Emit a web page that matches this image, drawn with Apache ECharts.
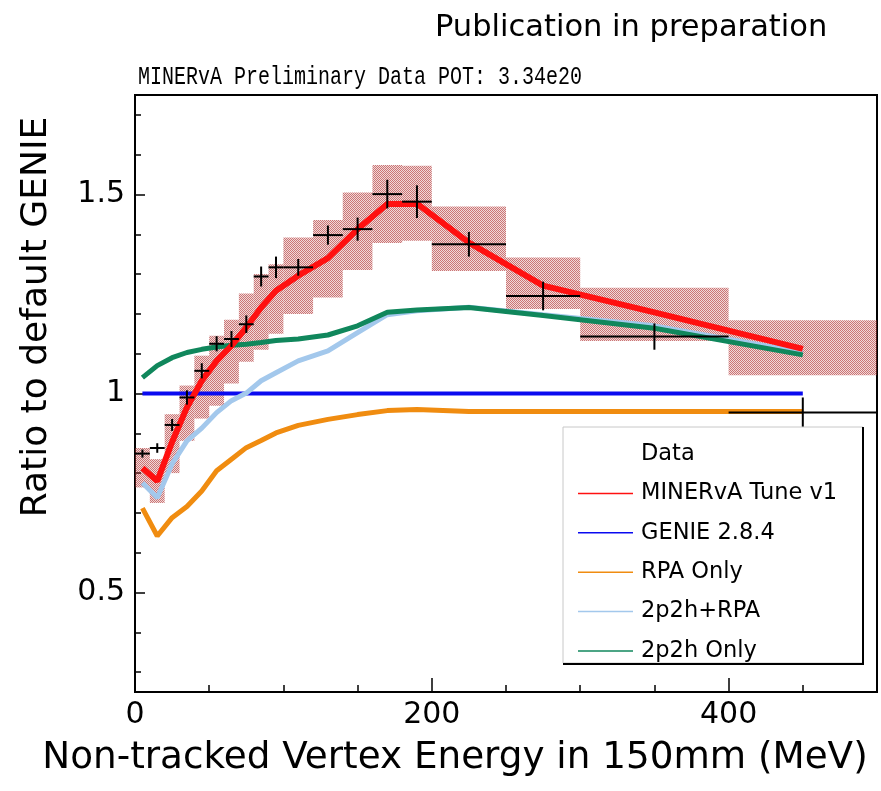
<!DOCTYPE html>
<html><head><meta charset="utf-8">
<script src="https://cdn.jsdelivr.net/npm/echarts@6/dist/echarts.min.js"></script>
<style>html,body{margin:0;padding:0;background:#fff}#chart{width:881px;height:791px}</style>
</head><body><div id="chart"></div>
<script>
// ---- data ----
const binLow    = [0,10,20,30,40,50,60,70,80,90,100,120,140,160,180,200,250,300,400];
const binHigh   = [10,20,30,40,50,60,70,80,90,100,120,140,160,180,200,250,300,400,500];
const binCenter = [5,15,25,35,45,55,65,75,85,95,110,130,150,170,190,225,275,350,450];
const dataRatio = [0.849,0.863,0.921,0.990,1.057,1.125,1.137,1.174,1.294,1.317,1.317,1.398,1.413,1.501,1.482,1.375,1.245,1.143,0.952];
const dataError = [0.010,0.012,0.015,0.018,0.019,0.019,0.020,0.022,0.025,0.027,0.021,0.024,0.029,0.036,0.041,0.031,0.036,0.033,0.038];
const bandHigh  = [0.863,0.835,0.948,1.020,1.095,1.145,1.185,1.251,1.300,1.325,1.392,1.436,1.505,1.574,1.572,1.470,1.342,1.266,1.184];
const bandLow   = [0.764,0.725,0.800,0.881,0.937,0.969,1.025,1.080,1.110,1.150,1.200,1.241,1.310,1.378,1.384,1.308,1.212,1.132,1.046];
const tuneV1    = [0.813,0.780,0.878,0.965,1.032,1.082,1.120,1.166,1.216,1.258,1.296,1.340,1.413,1.476,1.477,1.379,1.271,1.204,1.112];
const genie284  = [1,1,1,1,1,1,1,1,1,1,1,1,1,1,1,1,1,1,1];
const rpaOnly   = [0.712,0.642,0.688,0.716,0.755,0.806,0.835,0.864,0.882,0.901,0.920,0.935,0.947,0.957,0.960,0.955,0.955,0.955,0.955];
const mecRpa    = [0.776,0.738,0.823,0.881,0.913,0.952,0.982,1.001,1.032,1.052,1.082,1.107,1.153,1.198,1.208,1.217,1.198,1.170,1.103];
const mecOnly   = [1.040,1.070,1.090,1.103,1.111,1.117,1.121,1.124,1.128,1.133,1.137,1.147,1.170,1.204,1.210,1.216,1.196,1.164,1.097];
const seriesNames = ['Data','MINERvA Tune v1','GENIE 2.8.4','RPA Only','2p2h+RPA','2p2h Only'];
const xLabelValues = [0,200,400];
const xMinorTicks  = [50,100,150,250,300,350,450];
const yLabelValues = [0.5,1,1.5];
const yMinorTicks  = [0.3,0.4,0.6,0.7,0.8,0.9,1.1,1.2,1.3,1.4,1.6,1.7];

// ---- styles ----
const SANS = 'DejaVu Sans';
const colors = {tune:'#ff1010', genie:'#0a0af0', rpa:'#f08c10', mecRpa:'#a3c8ec', mec:'#10875c'};

const pat = document.createElement('canvas'); pat.width = 2; pat.height = 2;
const pctx = pat.getContext('2d');
pctx.fillStyle = 'rgba(170,25,25,0.6)';
pctx.fillRect(0,0,1,1); pctx.fillRect(1,1,1,1);
pctx.fillStyle = 'rgba(200,120,120,0.28)';
pctx.fillRect(1,0,1,1); pctx.fillRect(0,1,1,1);
const bandFill = {image: pat, repeat: 'repeat'};

const chart = echarts.init(document.getElementById('chart'), null, {renderer:'canvas'});

function lineSeries(name, values, color, width, z) {
  return {
    type:'line', name, data: binCenter.map((x,i)=>[x, values[i]]),
    symbol:'none', lineStyle:{color, width}, itemStyle:{color}, z, animation:false
  };
}

const option = {
  animation:false,
  grid:{left:135, top:95, right:4, bottom:99, show:true, borderColor:'#000', borderWidth:2, backgroundColor:'transparent'},
  xAxis:[
    {type:'value', min:0, max:500, position:'bottom',
     axisLine:{show:true, lineStyle:{color:'#000', width:2}},
     axisTick:{show:true, inside:true, length:7, customValues:xMinorTicks, lineStyle:{color:'#000', width:1.5}},
     axisLabel:{customValues:xLabelValues, formatter:v=>String(v), fontSize:30, fontFamily:SANS, color:'#000', margin:8},
     splitLine:{show:false}},
    {type:'value', min:0, max:500, position:'bottom', offset:0,
     axisLine:{show:false},
     axisTick:{show:true, inside:true, length:14, customValues:xLabelValues, lineStyle:{color:'#000', width:1.5}},
     axisLabel:{show:false}, splitLine:{show:false}}
  ],
  yAxis:[
    {type:'value', min:0.25, max:1.75, position:'left',
     axisLine:{show:true, lineStyle:{color:'#000', width:2}},
     axisTick:{show:true, inside:true, length:6, customValues:yMinorTicks, lineStyle:{color:'#000', width:1.5}},
     axisLabel:{customValues:yLabelValues, formatter:v=>String(v), fontSize:30, fontFamily:SANS, color:'#000', margin:10},
     splitLine:{show:false}},
    {type:'value', min:0.25, max:1.75, position:'left', offset:0,
     axisLine:{show:false},
     axisTick:{show:true, inside:true, length:10, customValues:yLabelValues, lineStyle:{color:'#000', width:1.5}},
     axisLabel:{show:false}, splitLine:{show:false}}
  ],
  legend:{
    orient:'vertical', left:573, top:436, itemWidth:55, itemHeight:1.5, itemGap:13.4,
    icon:'rect', selectedMode:false, z:30,
    textStyle:{fontFamily:SANS, fontSize:22.5, color:'#000', lineHeight:26, padding:[0,0,0,3]},
    data:[
      {name:seriesNames[0], itemStyle:{opacity:0}},
      seriesNames[1], seriesNames[2], seriesNames[3], seriesNames[4], seriesNames[5]
    ]
  },
  graphic:[
    {type:'rect', z:20, shape:{x:563, y:427, width:300, height:236}, style:{fill:'#fff', stroke:'#c8c8c8', lineWidth:1}},
    {type:'line', z:21, shape:{x1:863, y1:427, x2:863, y2:664}, style:{stroke:'#000', lineWidth:2}},
    {type:'line', z:21, shape:{x1:563, y1:664, x2:864, y2:664}, style:{stroke:'#000', lineWidth:2}},
    {type:'text', z:21, x:435, y:28, style:{text:'Publication in preparation', font:'30.5px "DejaVu Sans"', fill:'#000', verticalAlign:'middle', align:'left'}},
    {type:'text', z:21, x:138, y:77, scaleY:1.3, style:{text:'MINERvA Preliminary Data POT: 3.34e20', font:'20px "Liberation Mono"', fill:'#000', verticalAlign:'middle', align:'left'}},
    {type:'text', z:21, x:455, y:758, style:{text:'Non-tracked Vertex Energy in 150mm (MeV)', font:'37.3px "DejaVu Sans"', fill:'#000', verticalAlign:'middle', align:'center'}},
    {type:'text', z:21, x:37, y:317, rotation:Math.PI/2, style:{text:'Ratio to default GENIE', font:'36px "DejaVu Sans"', fill:'#000', verticalAlign:'middle', align:'center'}}
  ],
  series:[
    {type:'custom', name:'band', z:1, silent:true,
     data: binLow.map((x,i)=>[x, binHigh[i], bandLow[i], bandHigh[i]]),
     encode:{x:[0,1], y:[2,3]},
     renderItem:(params, api)=>{
       const p0 = api.coord([api.value(0), api.value(3)]);
       const p1 = api.coord([api.value(1), api.value(2)]);
       return {type:'rect', shape:{x:p0[0], y:p0[1], width:p1[0]-p0[0], height:p1[1]-p0[1]}, style:{fill:bandFill}};
     }},
    lineSeries(seriesNames[2], genie284, colors.genie, 4, 3),
    lineSeries(seriesNames[3], rpaOnly, colors.rpa, 5, 3),
    lineSeries(seriesNames[4], mecRpa, colors.mecRpa, 5, 4),
    lineSeries(seriesNames[5], mecOnly, colors.mec, 5, 5),
    lineSeries(seriesNames[1], tuneV1, colors.tune, 6, 6),
    {type:'custom', name:seriesNames[0], z:8, itemStyle:{color:'#000'},
     data: binLow.map((x,i)=>[x, binHigh[i], binCenter[i], dataRatio[i], dataError[i]]),
     encode:{x:[0,1], y:3},
     renderItem:(params, api)=>{
       const y = api.value(3), e = api.value(4), xc = api.value(2);
       const l = api.coord([api.value(0), y]);
       const r = api.coord([api.value(1), y]);
       const t = api.coord([xc, y + e]);
       const b = api.coord([xc, y - e]);
       return {type:'group', children:[
         {type:'line', shape:{x1:l[0], y1:l[1], x2:r[0], y2:r[1]}, style:{stroke:'#000', lineWidth:2}},
         {type:'line', shape:{x1:t[0], y1:t[1], x2:b[0], y2:b[1]}, style:{stroke:'#000', lineWidth:2}}
       ]};
     }}
  ]
};
chart.setOption(option);
</script></body></html>
